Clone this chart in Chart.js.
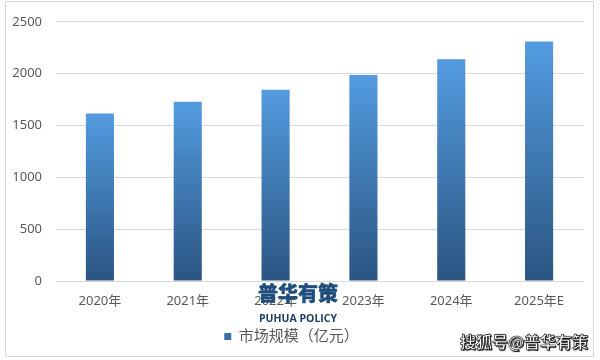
<!DOCTYPE html>
<html>
<head>
<meta charset="utf-8">
<script src="https://cdn.jsdelivr.net/npm/chart.js@4.4.1/dist/chart.umd.min.js"></script>
<style>
  html, body { margin: 0; padding: 0; background: #ffffff; }
  #wrap { position: relative; width: 600px; height: 360px; overflow: hidden; }
  #frame { position: absolute; left: 5px; top: 1px; width: 589px; height: 356px; border: 1px solid #d9d9d9; box-sizing: border-box; pointer-events: none; }
  .wm1 { position: absolute; left: 253px; top: 280px; width: 90px; text-align: center; font-family: "Noto Sans CJK SC", sans-serif; font-weight: 900; font-size: 20px; color: #1f4e7d; line-height: 26px; -webkit-text-stroke: 0.4px #1f4e7d; }
  .wm2 { position: absolute; left: 248px; top: 311px; width: 100px; text-align: center; font-family: "Open Sans", "Noto Sans", sans-serif; font-weight: 700; font-size: 10.5px; color: #1f3e66; line-height: 14px; }
  .wm3 { position: absolute; left: 460px; top: 330px; width: 130px; text-align: left; font-family: "Noto Sans CJK SC", sans-serif; font-weight: 700; font-size: 16px; color: #ffffff; line-height: 22px; -webkit-text-stroke: 0.6px #222; text-shadow: 0 0 1px #000, 1px 1px 1px #000; }
</style>
</head>
<body>
<div id="wrap">
  <canvas id="c" width="600" height="360"></canvas>
  <div id="frame"></div>
  <div class="wm1">普华有策</div>
  <div class="wm2">PUHUA POLICY</div>
  <div class="wm3">搜狐号@普华有策</div>
</div>
<script>
const categories = ['2020年', '2021年', '2022年', '2023年', '2024年', '2025年E'];
const marketSize = [1616, 1730, 1845, 1987, 2139, 2310];
const yTicks = [0, 500, 1000, 1500, 2000, 2500];
const seriesName = '市场规模（亿元）';

const FONT = '"Noto Sans", "Noto Sans CJK SC", sans-serif';

function barGradient(context) {
  const chart = context.chart;
  const area = chart.chartArea;
  if (!area || context.type !== 'data') return '#3d79b6';
  const yScale = chart.scales.y;
  const v = context.parsed ? context.parsed.y : context.raw;
  const top = yScale.getPixelForValue(v);
  const bottom = yScale.getPixelForValue(0);
  const g = chart.ctx.createLinearGradient(0, bottom, 0, top);
  g.addColorStop(0, '#2b5581');
  g.addColorStop(1, '#539be0');
  return g;
}

new Chart(document.getElementById('c'), {
  type: 'bar',
  data: {
    labels: categories,
    datasets: [{
      label: seriesName,
      data: marketSize,
      backgroundColor: barGradient,
      borderWidth: 0,
      categoryPercentage: 1.0,
      barPercentage: 0.32
    }]
  },
  options: {
    responsive: false,
    animation: false,
    devicePixelRatio: 1,
    layout: { padding: { left: 0, right: 17, top: 13, bottom: 6 } },
    plugins: {
      tooltip: { enabled: false },
      legend: {
        display: true,
        position: 'bottom',
        labels: {
          boxWidth: 7,
          boxHeight: 7,
          padding: 6,
          color: '#595959',
          font: { family: FONT, size: 15 },
          generateLabels: (chart) => [{
            text: seriesName,
            fillStyle: '#3a70a8',
            strokeStyle: '#3a70a8',
            lineWidth: 0,
            hidden: false,
            datasetIndex: 0,
            fontColor: '#595959'
          }]
        }
      }
    },
    scales: {
      x: {
        grid: { display: false, drawTicks: false },
        border: { display: true, color: '#d9d9d9' },
        ticks: { color: '#595959', padding: 12, font: { family: FONT, size: 13 }, maxRotation: 0 },
        afterFit: (s) => { s.height = 42; }
      },
      y: {
        min: 0,
        max: 2500,
        afterBuildTicks: (s) => { s.ticks = yTicks.map(v => ({ value: v })); },
        grid: { color: '#d9d9d9', drawTicks: false },
        border: { display: false },
        ticks: { color: '#595959', padding: 14, font: { family: FONT, size: 13 }, callback: (v) => String(v) },
        afterFit: (s) => { s.width = 56; }
      }
    }
  }
});
</script>
</body>
</html>
